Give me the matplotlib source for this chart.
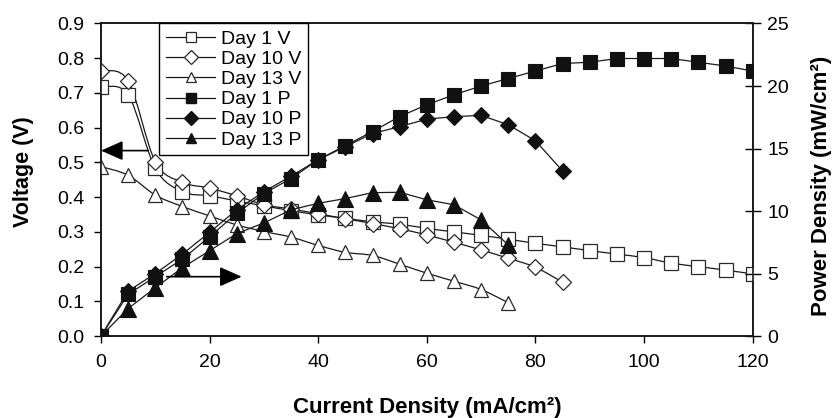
import matplotlib
matplotlib.use("Agg")
import matplotlib.pyplot as plt
from matplotlib.path import Path
from matplotlib.patches import PathPatch
from matplotlib.lines import Line2D
import numpy as np

plt.rcParams['font.family'] = ['Liberation Sans', 'DejaVu Sans']

# ---------------- data ----------------
current_d1 = [0, 5, 10, 15, 20, 25, 30, 35, 40, 45, 50, 55, 60, 65, 70, 75,
              80, 85, 90, 95, 100, 105, 110, 115, 120]
volt_d1 = [0.717, 0.695, 0.483, 0.416, 0.404, 0.389, 0.375, 0.361, 0.349, 0.339,
           0.329, 0.322, 0.310, 0.300, 0.290, 0.279, 0.267, 0.257, 0.246, 0.236,
           0.226, 0.210, 0.200, 0.190, 0.179]
power_d1 = [0, 3.34, 4.75, 6.16, 7.95, 9.82, 11.4, 12.6, 14.1, 15.24, 16.36, 17.56,
            18.5, 19.3, 20.0, 20.6, 21.2, 21.8, 21.9, 22.2, 22.2, 22.2, 21.9, 21.6, 21.2]

current_d10 = [0, 5, 10, 15, 20, 25, 30, 35, 40, 45, 50, 55, 60, 65, 70, 75, 80, 85]
volt_d10 = [0.764, 0.735, 0.502, 0.443, 0.426, 0.404, 0.378, 0.366, 0.352, 0.338,
            0.324, 0.309, 0.291, 0.270, 0.248, 0.224, 0.198, 0.155]
power_d10 = [0, 3.6, 5.0, 6.56, 8.3, 10.1, 11.55, 12.8, 14.1, 15.15, 16.2, 16.75,
             17.35, 17.55, 17.65, 16.9, 15.62, 13.2]

current_d13 = [0, 5, 10, 15, 20, 25, 30, 35, 40, 45, 50, 55, 60, 65, 70, 75]
volt_d13 = [0.488, 0.463, 0.406, 0.373, 0.346, 0.320, 0.301, 0.285, 0.261, 0.241,
            0.232, 0.207, 0.181, 0.158, 0.134, 0.096]
power_d13 = [0, 2.2, 3.87, 5.47, 6.83, 8.2, 9.05, 10.1, 10.62, 11.0, 11.47, 11.5,
             10.9, 10.5, 9.29, 7.29]

volt_ticks = [0.0, 0.1, 0.2, 0.3, 0.4, 0.5, 0.6, 0.7, 0.8, 0.9]
power_ticks = [0, 5, 10, 15, 20, 25]
current_ticks = [0, 20, 40, 60, 80, 100, 120]

labels = ['Day 1 V', 'Day 10 V', 'Day 13 V', 'Day 1 P', 'Day 10 P', 'Day 13 P']

# ---------------- helpers ----------------
def smooth_path(x, y):
    """Excel-style smoothed line through the points (cubic Bezier)."""
    pts = np.column_stack([x, y]).astype(float)
    n = len(pts)
    verts = [pts[0]]
    codes = [Path.MOVETO]
    for i in range(n - 1):
        p0 = pts[i - 1] if i > 0 else pts[i]
        p1 = pts[i]
        p2 = pts[i + 1]
        p3 = pts[i + 2] if i + 2 < n else pts[i + 1]
        c1 = p1 + (p2 - p0) / 6.0
        c2 = p2 - (p3 - p1) / 6.0
        verts += [c1, c2, p2]
        codes += [Path.CURVE4] * 3
    return Path(verts, codes)

LINE_C = '#1a1a1a'
EDGE_C = '#2a2a2a'
FILL_C = '#111111'

fig = plt.figure(figsize=(8.34, 4.18), dpi=100)
ax = fig.add_axes([0.1211, 0.196, 0.9025 - 0.1211, 0.9438 - 0.196])
ax2 = ax.twinx()

ax.set_xlim(0, 120)
ax.set_ylim(0, 0.9)
ax2.set_ylim(0, 25)

# voltage series (open markers, smoothed lines)
v_series = [(current_d1, volt_d1, 's', 9.5),
            (current_d10, volt_d10, 'D', 8.0),
            (current_d13, volt_d13, '^', 10.5)]
for x, y, m, ms in v_series:
    ax.add_patch(PathPatch(smooth_path(x, y), fill=False, edgecolor=LINE_C,
                           lw=0.9, zorder=2))
    ax.plot(x, y, linestyle='none', marker=m, markersize=ms,
            markerfacecolor='white', markeredgecolor=EDGE_C,
            markeredgewidth=0.9, zorder=3)

# power series (filled markers)
p_series = [(current_d1, power_d1, 's', 10.0),
            (current_d10, power_d10, 'D', 8.5),
            (current_d13, power_d13, '^', 11.0)]
for x, y, m, ms in p_series:
    ax2.plot(x, y, color=LINE_C, lw=0.9, marker=m, markersize=ms,
             markerfacecolor=FILL_C, markeredgecolor=FILL_C,
             markeredgewidth=0.8, zorder=3)

# arrows
ax.annotate('', xy=(0, 0.534), xytext=(8.7, 0.534),
            arrowprops=dict(arrowstyle='-|>,head_length=0.45,head_width=0.2',
                            color='black', lw=1.2, mutation_scale=30,
                            shrinkA=0, shrinkB=0))
ax2.annotate('', xy=(25.9, 4.75), xytext=(12.1, 4.75),
             arrowprops=dict(arrowstyle='-|>,head_length=0.45,head_width=0.2',
                             color='black', lw=1.2, mutation_scale=30,
                             shrinkA=0, shrinkB=0))

# axes styling
FS = 14
ax.set_xticks(current_ticks)
ax.set_yticks(volt_ticks)
ax.set_yticklabels([f'{v:.1f}' for v in volt_ticks])
ax2.set_yticks(power_ticks)
ax.tick_params(axis='both', direction='out', length=5, width=1.0,
               labelsize=FS, colors='black', pad=7)
ax.tick_params(axis='x', pad=8)
ax2.tick_params(axis='y', direction='inout', length=11, width=1.0,
                labelsize=FS, pad=5)
for a in (ax, ax2):
    for s in a.spines.values():
        s.set_linewidth(1.2)
        s.set_color('#1a1a1a')

LFS = 16
ax.set_xlabel('Current Density (mA/cm²)', fontsize=LFS,
              fontweight='bold', va='baseline')
ax.xaxis.set_label_coords(0.5, -0.2474)
ax.set_ylabel('Voltage (V)', fontsize=15.5, fontweight='bold',
              va='baseline', rotation_mode='anchor')
ax.yaxis.set_label_coords(-0.1105, 0.526)
ax2.set_ylabel('Power Density (mW/cm²)', fontsize=LFS, fontweight='bold',
               rotation=90, va='baseline', rotation_mode='anchor')
ax2.yaxis.set_label_coords(1.1136, 0.48)

# legend
handles = []
for m in ['s', 'D', '^']:
    handles.append(Line2D([], [], color=LINE_C, lw=0.9, marker=m, markersize=7,
                          markerfacecolor='white', markeredgecolor=EDGE_C,
                          markeredgewidth=0.9))
for m in ['s', 'D', '^']:
    handles.append(Line2D([], [], color=LINE_C, lw=0.9, marker=m, markersize=7.5,
                          markerfacecolor=FILL_C, markeredgecolor=FILL_C))
leg = ax2.legend(handles, labels, loc='upper left',
                 bbox_to_anchor=(0.089, 1.0), borderaxespad=0,
                 fontsize=FS, frameon=True, fancybox=False, framealpha=1,
                 edgecolor='black', handlelength=2.55, handletextpad=0.3,
                 labelspacing=0.13, borderpad=0.35)
leg.get_frame().set_linewidth(1.0)

fig.savefig('out.png', dpi=100)
